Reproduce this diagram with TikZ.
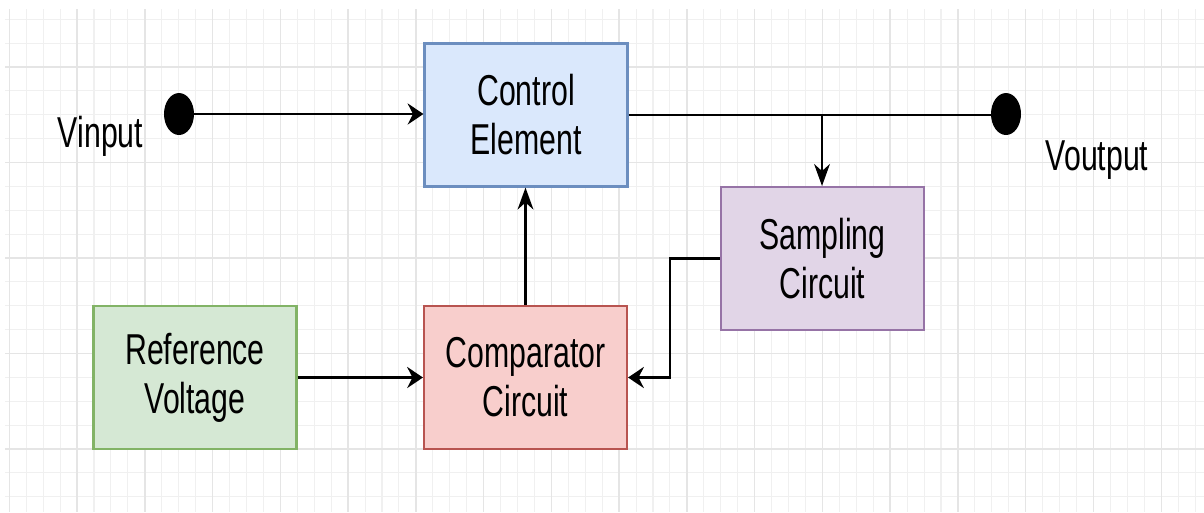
\documentclass[tikz,border=0pt]{standalone}
\usepackage{fontspec}
\setmainfont[FakeStretch=0.7]{Liberation Sans}
\usetikzlibrary{arrows.meta,shapes.geometric}

\definecolor{ctrlfill}{HTML}{DAE8FC}
\definecolor{ctrldraw}{HTML}{6C8EBF}
\definecolor{sampfill}{HTML}{E1D5E7}
\definecolor{sampdraw}{HTML}{9673A6}
\definecolor{reffill}{HTML}{D5E8D4}
\definecolor{refdraw}{HTML}{82B366}
\definecolor{compfill}{HTML}{F8CECC}
\definecolor{compdraw}{HTML}{B85450}

\tikzset{
  blockbox/.style={draw, line width=1.2pt, minimum width=4.06cm, minimum height=2.86cm,
    inner sep=0pt, align=center, font=\fontsize{24.6}{27.9}\selectfont},
  termdot/.style={ellipse, fill=black, minimum width=0.6cm, minimum height=0.84cm, inner sep=0pt},
  termlabel/.style={anchor=base, inner sep=0pt, font=\fontsize{24.6}{27.9}\selectfont},
  wire/.style={line width=1.3pt},
  harrow/.style={wire, -{Stealth[length=9pt, width=12pt, inset=3pt]}},
  varrow/.style={wire, -{Stealth[length=12.5pt, width=9pt, inset=4pt]}},
  gridminor/.style={black!6, line width=0.6pt},
  gridmajor/.style={black!10, line width=0.8pt}
}

\begin{document}
\begin{tikzpicture}[x=0.02cm, y=-0.02cm]
    \fill[white] (0,0) rectangle (1204,512);
    \useasboundingbox (0,0) rectangle (1204,512);

    % grid
    \foreach \k in {0,...,70}
        \draw[gridminor] ({9.3+16.94*\k},9) -- ({9.3+16.94*\k},512);
    \foreach \k in {0,...,20}
        \draw[gridminor] (5,{19.25+23.875*\k}) -- (1204,{19.25+23.875*\k});
    \foreach \k in {0,4,...,68}
        \draw[gridmajor] ({9.3+16.94*\k},9) -- ({9.3+16.94*\k},512);
    \foreach \k in {2,6,...,18}
        \draw[gridmajor] (5,{19.25+23.875*\k}) -- (1204,{19.25+23.875*\k});

    % blocks
    \node[blockbox, fill=ctrlfill, draw=ctrldraw] (ctrl) at (526,115) {Control\\Element};
    \node[blockbox, fill=sampfill, draw=sampdraw] (samp) at (822.5,258.5) {Sampling\\Circuit};
    \node[blockbox, fill=reffill, draw=refdraw] (ref) at (195,377.5) {Reference\\Voltage};
    \node[blockbox, fill=compfill, draw=compdraw] (comp) at (525.5,377.5) {Comparator\\Circuit};

    % terminals
    \node[termdot] (vin) at (179,114) {};
    \node[termdot] (vout) at (1006,114) {};
    \node[termlabel] (vinlbl) at (100.5,147) {Vinput};
    \node[termlabel] (voutlbl) at (1097,170) {Voutput};

    \coordinate (tap) at (822,115);
    \coordinate (fb) at (670,258.5);

    % connectors
    \draw[harrow] (vin.east) -- (vin.east -| ctrl.west);
    \draw[wire] (ctrl.east) -- (ctrl.east -| vout.west);
    \draw[varrow] (tap) -- (tap |- samp.north);
    \draw[harrow] (samp.west) -- (fb) |- (comp.east);
    \draw[varrow] (comp.north) -- (comp.north |- ctrl.south);
    \draw[harrow] (ref.east) -- (comp.west);

\end{tikzpicture}
\end{document}
